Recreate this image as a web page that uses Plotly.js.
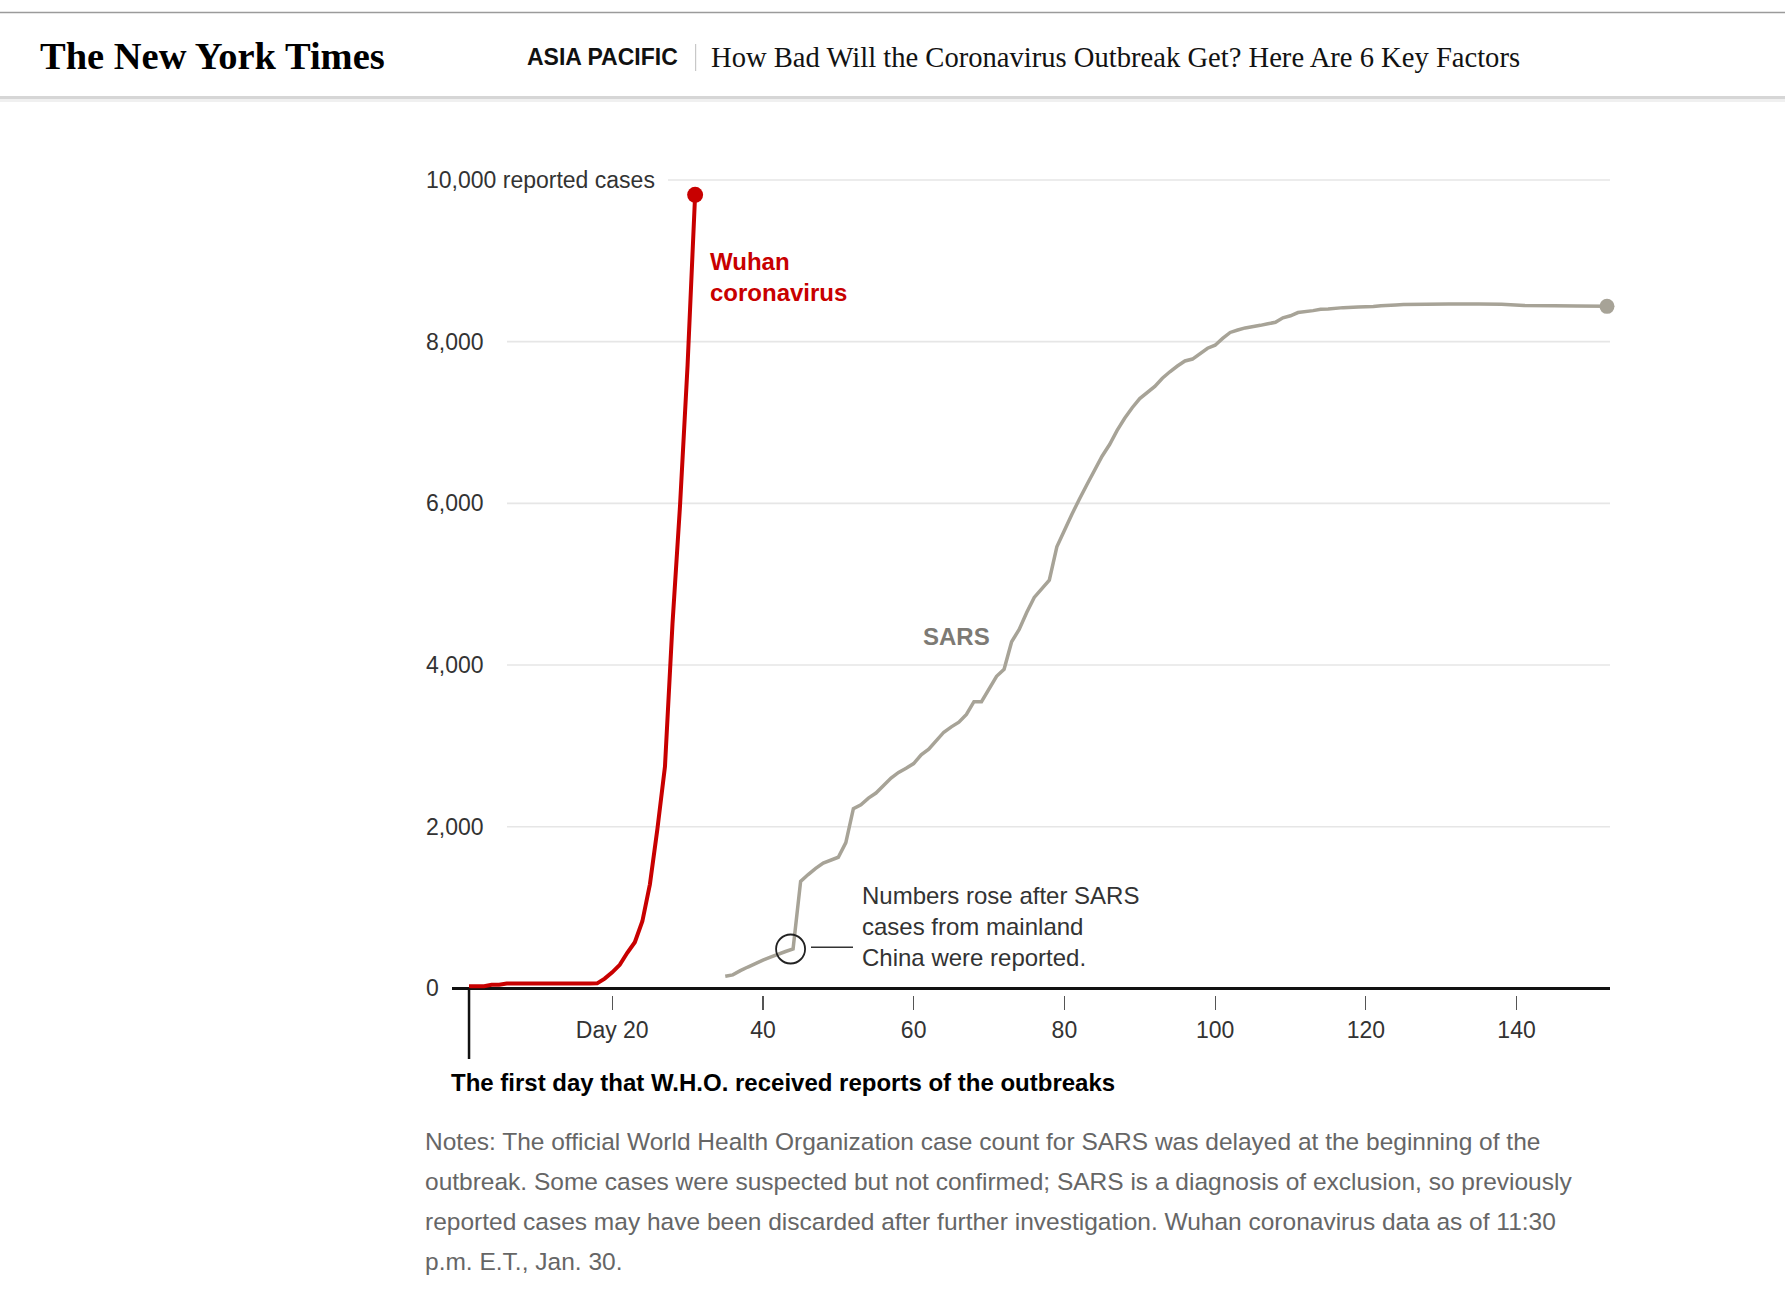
<!DOCTYPE html>
<html>
<head>
<meta charset="utf-8">
<script src="https://cdn.plot.ly/plotly-3.0.1.min.js"></script>
<style>
  html, body { margin: 0; padding: 0; background: #ffffff; }
  #chart { width: 1785px; height: 1312px; }
</style>
</head>
<body>
<div id="chart"></div>
<script>
// ---------------- DATA ----------------
// Days since W.H.O. first received reports of the outbreak
const wuhanDays  = [1, 2, 3, 4, 5, 6, 7, 8, 9, 10, 11, 12, 13, 14, 15, 16, 17, 18, 19, 20, 21, 22, 23, 24, 25, 26, 27, 28, 29, 30, 31];
const wuhanCases = [27, 27, 27, 44, 44, 59, 59, 59, 59, 59, 59, 59, 59, 59, 59, 59, 59, 62, 121, 198, 291, 440, 571, 830, 1287, 1975, 2744, 4515, 5974, 7711, 9816];

const sarsDays  = [35, 36, 37, 38, 39, 40, 41, 43, 44, 45, 46, 47, 48, 50, 51, 52, 53, 54, 55, 57, 58, 59, 60, 61, 62, 64, 65, 66, 67, 68, 69, 71, 72, 73, 74, 75, 76, 78, 79, 80, 81, 82, 83, 85, 86, 87, 88, 89, 90, 92, 93, 94, 95, 96, 97, 99, 100, 101, 102, 103, 104, 106, 107, 108, 109, 110, 111, 113, 114, 115, 117, 119, 121, 122, 124, 125, 128, 131, 135, 138, 141, 145, 148, 152];
const sarsCases = [150, 167, 219, 264, 306, 350, 386, 456, 487, 1323, 1408, 1485, 1550, 1622, 1804, 2223, 2270, 2353, 2416, 2601, 2671, 2722, 2781, 2890, 2960, 3169, 3235, 3293, 3389, 3547, 3547, 3861, 3947, 4288, 4439, 4649, 4836, 5050, 5462, 5663, 5865, 6054, 6234, 6583, 6727, 6903, 7053, 7183, 7296, 7447, 7548, 7628, 7699, 7761, 7785, 7919, 7956, 8040, 8114, 8144, 8170, 8202, 8221, 8240, 8295, 8320, 8360, 8384, 8402, 8403, 8421, 8430, 8435, 8445, 8454, 8460, 8464, 8465, 8465, 8462, 8447, 8445, 8441, 8437];

const yTickVals   = [0, 2000, 4000, 6000, 8000, 10000];
const yTickLabels = ["0", "2,000", "4,000", "6,000", "8,000", "10,000 reported cases"];
const xTickVals   = [20, 40, 60, 80, 100, 120, 140];
const xTickLabels = ["Day 20", "40", "60", "80", "100", "120", "140"];
const firstReportDay = 1;
const sarsJumpDay = 44;   // last SARS day before mainland China cases were added

const headerSection = "ASIA PACIFIC";
const headerTitle = "How Bad Will the Coronavirus Outbreak Get? Here Are 6 Key Factors";
const logoText = "The New York Times";
const wuhanLabel = "Wuhan<br>coronavirus";
const sarsLabel = "SARS";
const calloutText = "Numbers rose after SARS<br>cases from mainland<br>China were reported.";
const firstDayText = "The first day that W.H.O. received reports of the outbreaks";
const noteLines = [
  "Notes: The official World Health Organization case count for SARS was delayed at the beginning of the",
  "outbreak. Some cases were suspected but not confirmed; SARS is a diagnosis of exclusion, so previously",
  "reported cases may have been discarded after further investigation. Wuhan coronavirus data as of 11:30",
  "p.m. E.T., Jan. 30."
];

// ---------------- LAYOUT HELPERS ----------------
const W = 1785, H = 1312;
const L = 452, R = 1610, T = 150, B = 995;      // plot area in page pixels
const X_RANGE = [-1.26, 152.4];
const Y_RANGE = [-82, 10371];
const px = p => (p - L) / (R - L);               // page x pixel -> paper
const py = p => (B - p) / (B - T);               // page y pixel -> paper

const SANS = "Liberation Sans, Arial, sans-serif";
const SERIF = "Liberation Serif, Times New Roman, serif";
const RED = "#c80000";
const GREY = "#a7a397";

// ---------------- TRACES ----------------
const traces = [
  {
    x: sarsDays, y: sarsCases, type: "scatter", mode: "lines",
    line: { color: GREY, width: 3.5, simplify: false }, hoverinfo: "skip"
  },
  {
    x: [sarsDays[sarsDays.length - 1]], y: [sarsCases[sarsCases.length - 1]],
    type: "scatter", mode: "markers", cliponaxis: false,
    marker: { color: GREY, size: 15 }, hoverinfo: "skip"
  },
  {
    x: wuhanDays, y: wuhanCases, type: "scatter", mode: "lines",
    line: { color: RED, width: 4, simplify: false }, hoverinfo: "skip"
  },
  {
    x: [wuhanDays[wuhanDays.length - 1]], y: [wuhanCases[wuhanCases.length - 1]],
    type: "scatter", mode: "markers", cliponaxis: false,
    marker: { color: RED, size: 16 }, hoverinfo: "skip"
  }
];

// ---------------- SHAPES ----------------
const shapes = [];
// header rules
shapes.push({ type: "line", xref: "paper", yref: "paper", x0: px(0), x1: px(W), y0: py(12.5), y1: py(12.5), line: { color: "#9b9b9b", width: 1.5 } });
shapes.push({ type: "rect", xref: "paper", yref: "paper", x0: px(0), x1: px(W), y0: py(96), y1: py(99), fillcolor: "#d6d6d6", line: { width: 0 } });
shapes.push({ type: "rect", xref: "paper", yref: "paper", x0: px(0), x1: px(W), y0: py(99), y1: py(102), fillcolor: "#f0f0f0", line: { width: 0 } });
shapes.push({ type: "line", xref: "paper", yref: "paper", x0: px(695.6), x1: px(695.6), y0: py(44), y1: py(71), line: { color: "#c8c8c8", width: 1.2 } });
// gridlines, starting right after their labels
yTickVals.forEach((v, i) => {
  if (v === 0) return;
  const startPx = (i === yTickVals.length - 1) ? 668 : 507;
  shapes.push({ type: "line", xref: "paper", yref: "y", x0: px(startPx), x1: 1, y0: v, y1: v, layer: "below", line: { color: "#e6e6e6", width: 1.6 } });
});
// first-report day marker below the axis
shapes.push({ type: "line", xref: "x", yref: "paper", x0: firstReportDay, x1: firstReportDay, y0: py(988.4), y1: py(1059), line: { color: "#111", width: 2.5 } });
// callout circle around the SARS jump
const jumpIdx = sarsDays.indexOf(sarsJumpDay);
shapes.push({
  type: "circle", xref: "x", yref: "y",
  xsizemode: "pixel", ysizemode: "pixel",
  xanchor: sarsDays[jumpIdx], yanchor: sarsCases[jumpIdx],
  x0: -17, x1: 12, y0: -14.5, y1: 14.5,
  line: { color: "#222", width: 1.8 }
});
// callout leader line
shapes.push({ type: "line", xref: "paper", yref: "paper", x0: px(811), x1: px(853), y0: py(947.3), y1: py(947.3), line: { color: "#333", width: 1.6 } });

// ---------------- ANNOTATIONS ----------------
const annotations = [];
const ann = (o) => annotations.push(Object.assign({ showarrow: false, xref: "paper", yref: "paper", borderpad: 0 }, o));

// header
ann({ text: "<b>" + logoText + "</b>", x: px(39), y: py(56), xanchor: "left", yanchor: "middle", font: { family: SERIF, size: 38.5, color: "#000" } });
ann({ text: "<b>" + headerSection + "</b>", x: px(526), y: py(57), xanchor: "left", yanchor: "middle", font: { family: SANS, size: 23, color: "#111" } });
ann({ text: headerTitle, x: px(710), y: py(57), xanchor: "left", yanchor: "middle", font: { family: SERIF, size: 28.6, color: "#121212" } });

// y tick labels
yTickVals.forEach((v, i) => {
  ann({ text: yTickLabels[i], x: px(425), xanchor: "left", yref: "y", y: v, yanchor: "middle", font: { family: SANS, size: 23, color: "#333" } });
});

// series labels
ann({ text: "<b>" + wuhanLabel + "</b>", x: px(709), y: py(276.7), xanchor: "left", yanchor: "middle", align: "left", font: { family: SANS, size: 24, color: RED } });
ann({ text: "<b>" + sarsLabel + "</b>", x: px(956), y: py(636), xanchor: "center", yanchor: "middle", font: { family: SANS, size: 24, color: "#7d7a74" } });

// callout
ann({ text: calloutText, x: px(861), y: py(926.7), xanchor: "left", yanchor: "middle", align: "left", font: { family: SANS, size: 24, color: "#333" } });

// first day label
ann({ text: "<b>" + firstDayText + "</b>", x: px(450), y: py(1082.6), xanchor: "left", yanchor: "middle", font: { family: SANS, size: 24, color: "#000" } });

// notes
const noteY = [1141.8, 1181.7, 1221.5, 1261.3];
noteLines.forEach((t, i) => {
  ann({ text: t, x: px(424), y: py(noteY[i]), xanchor: "left", yanchor: "middle", font: { family: SANS, size: 24.5, color: "#666" } });
});

// ---------------- LAYOUT ----------------
const layout = {
  width: W, height: H,
  margin: { l: L, r: W - R, t: T, b: H - B, pad: 0 },
  paper_bgcolor: "#ffffff", plot_bgcolor: "rgba(0,0,0,0)",
  showlegend: false,
  hovermode: false,
  font: { family: SANS, color: "#333" },
  xaxis: {
    range: X_RANGE, showgrid: false, zeroline: false, showline: false,
    tickmode: "array", tickvals: xTickVals, ticktext: xTickLabels,
    ticks: "outside", ticklen: 14, tickwidth: 1.2, tickcolor: "#555",
    tickfont: { family: SANS, size: 23, color: "#333" },
    fixedrange: true
  },
  yaxis: {
    range: Y_RANGE, showgrid: false, showticklabels: false, ticks: "",
    zeroline: true, zerolinecolor: "#111", zerolinewidth: 2.6,
    showline: false, fixedrange: true
  },
  shapes: shapes,
  annotations: annotations
};

Plotly.newPlot("chart", traces, layout, { displayModeBar: false, staticPlot: true });
</script>
</body>
</html>
